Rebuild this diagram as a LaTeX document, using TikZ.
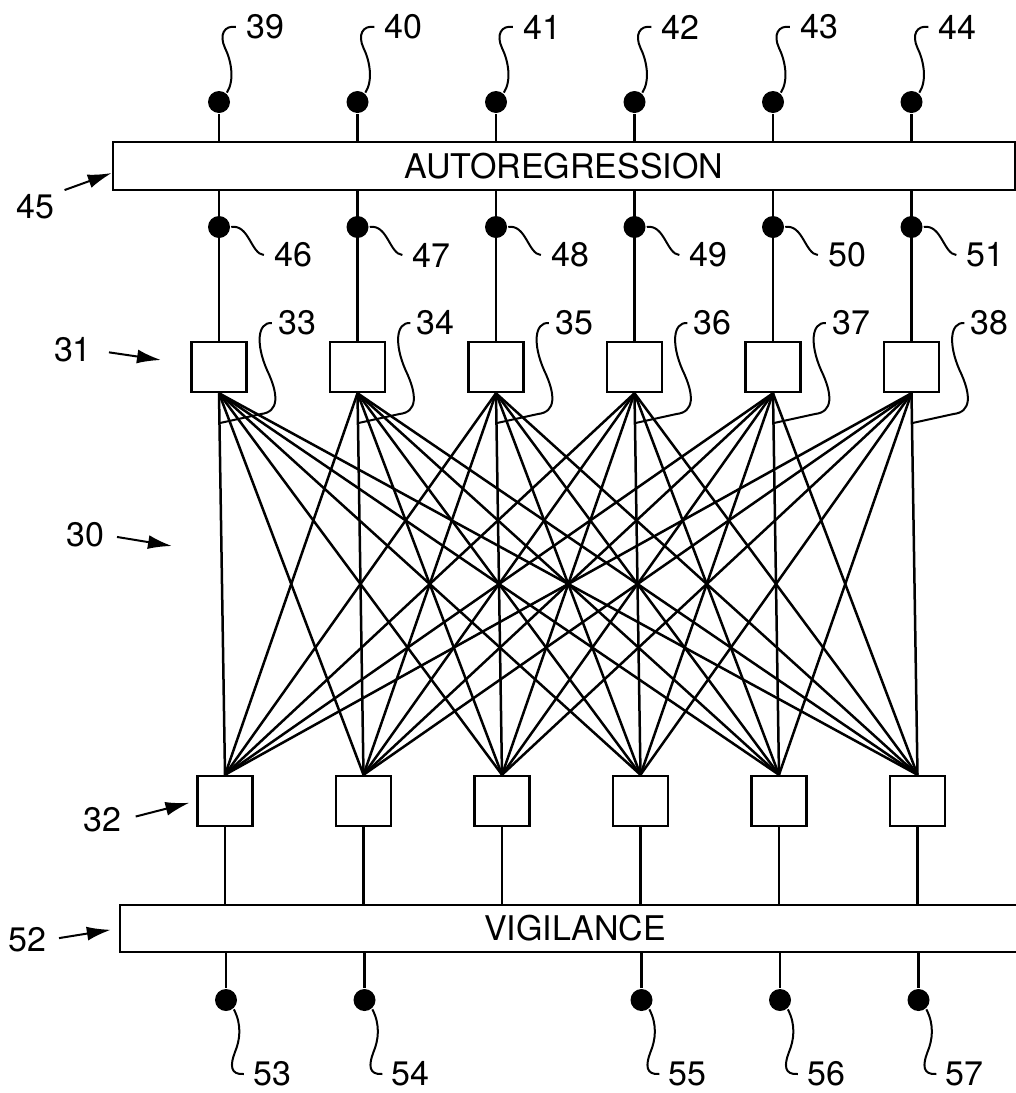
\documentclass[tikz,border=0pt]{standalone}
\usepackage{fontspec}
\setmainfont{TeX Gyre Heros}
\usetikzlibrary{arrows.meta}

\begin{document}
\begin{tikzpicture}[x=0.5pt, y=-0.5pt, line width=1.25pt,
    dot/.style={circle, fill, inner sep=0pt, minimum size=11pt},
    cell/.style={draw, fill=white, inner sep=0pt, minimum width=27.5pt, minimum height=25pt},
    bar/.style={draw, inner sep=0pt, minimum height=24pt, font=\fontsize{17}{20}\selectfont},
    num/.style={inner sep=0pt, font=\fontsize{17}{20}\selectfont},
    lead/.style={line width=1pt},
    pointer/.style={-{Latex[length=12pt, width=7pt]}, line width=1pt}]
    \useasboundingbox (0,0) rectangle (1016,1093);

    \node (ar) at (564,166) [bar, minimum width=451pt] {AUTOREGRESSION};
    \node (vg) at (575,928.5) [bar, minimum width=455pt, minimum height=23.5pt] {VIGILANCE};

    \foreach \i [evaluate=\i as \x using 219+138.5*(\i-1),
                 evaluate=\i as \ta using int(38+\i),
                 evaluate=\i as \tb using int(45+\i),
                 evaluate=\i as \tc using int(32+\i)] in {1,...,6} {
        \node (t\i) at (\x,102) [dot] {};
        \node (m\i) at (\x,227) [dot] {};
        \node (a\i) at (\x,367) [cell] {};
        \node (b\i) at (\x+6,801) [cell] {};
        \node (lt\i) at (\x+46,27) [num] {\ta};
        \node (lm\i) at (\x+74,255) [num] {\tb};
        \node (lc\i) at (\x+78,323) [num] {\tc};
        \draw (t\i) -- (t\i |- ar.north);
        \draw (m\i |- ar.south) -- (a\i);
        \draw (b\i) -- (b\i |- vg.north);
        \draw[lead] (t\i.50) .. controls (\x+16,80) and (\x+12,60) .. (\x+6,48)
            .. controls (\x+0,35) and (\x+5,25) .. ([xshift=-4.5pt]lt\i.west);
        \draw[lead] (m\i.east) .. controls (\x+30,224) and (\x+32,254) .. ([xshift=-4.5pt]lm\i.west);
        \draw[lead] ([xshift=-2.5pt]lc\i.west) .. controls (\x+38,322) and (\x+37,345) .. (\x+48,370)
            .. controls (\x+60,395) and (\x+60,412) .. (\x+42,414) -- (\x+1,423);
    }

    \foreach \j in {1,...,6}
        \foreach \k in {1,...,6}
            \draw (a\j.south) -- (b\k.north);

    \foreach \i/\n [evaluate=\i as \x using 226+138.5*(\i-1)] in {1/53,2/54,4/55,5/56,6/57} {
        \node (d\i) at (\x,1000) [dot] {};
        \node (ld\i) at (\x+46,1074) [num] {\n};
        \draw (d\i |- vg.south) -- (d\i);
        \draw[lead] (d\i.-50) .. controls (\x+16,1025) and (\x+14,1040) .. (\x+9,1052)
            .. controls (\x+4,1065) and (\x+4,1075) .. ([xshift=-4pt]ld\i.west);
    }

    \node (n45) at (35,207) [num] {45};
    \node (n31) at (73,350) [num] {31};
    \node (n30) at (85,535) [num] {30};
    \node (n32) at (102,820) [num] {32};
    \node (n52) at (27,940) [num] {52};
    \coordinate (p31) at (161,360);
    \coordinate (p30) at (172,546);
    \draw[pointer, shorten <=5pt] (n45.north east) -- ([yshift=-3.5pt]ar.west);
    \draw[pointer, shorten <=8pt] (n31.east) -- (p31);
    \draw[pointer, shorten <=6pt] (n30.east) -- (p30);
    \draw[pointer, shorten <=7pt, shorten >=3.5pt] (n32.east) -- (b1.west);
    \draw[pointer, shorten <=6pt, shorten >=4pt] (n52.east) -- (vg.west);
\end{tikzpicture}
\end{document}
